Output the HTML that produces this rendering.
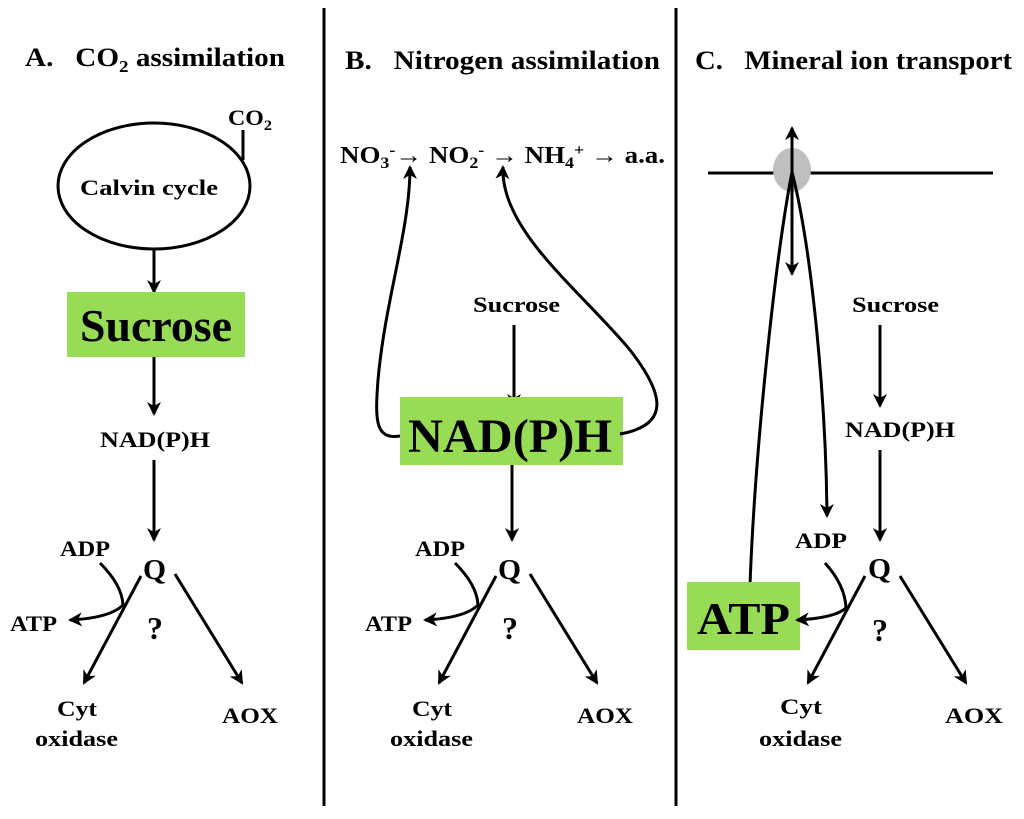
<!DOCTYPE html>
<html><head><meta charset="utf-8"><style>
body{margin:0;background:#fff}
svg text{font-family:"Liberation Serif",serif;font-weight:bold;fill:#000}
</style></head><body>
<svg width="1024" height="814" viewBox="0 0 1024 814" xmlns="http://www.w3.org/2000/svg">
<defs>
<marker id="ah" markerWidth="16" markerHeight="16" refX="12" refY="7" orient="auto" markerUnits="userSpaceOnUse">
<path d="M0,0 L14,7 L0,14 L4,7 Z" fill="#000"/>
</marker>
</defs>
<g stroke="#000" stroke-width="3" fill="none">
<line x1="324" y1="8" x2="324" y2="806"/>
<line x1="676" y1="8" x2="676" y2="806"/>
</g>
<!-- Titles -->
<text x="25" y="66" font-size="26" textLength="260" lengthAdjust="spacingAndGlyphs">A.&#160;&#160; CO<tspan font-size="17" dy="6">2</tspan><tspan dy="-6"> assimilation</tspan></text>
<text x="345" y="69" font-size="26" textLength="315" lengthAdjust="spacingAndGlyphs">B.&#160;&#160; Nitrogen assimilation</text>
<text x="695" y="69" font-size="26" textLength="317" lengthAdjust="spacingAndGlyphs">C.&#160;&#160; Mineral ion transport</text>

<!-- Panel A -->
<ellipse cx="154" cy="186" rx="96" ry="63" fill="none" stroke="#000" stroke-width="3"/>
<path d="M243,130 L243,160" stroke="#000" stroke-width="3"/>
<text x="228" y="125" font-size="22" textLength="44" lengthAdjust="spacingAndGlyphs">CO<tspan font-size="15" dy="5">2</tspan></text>
<text x="80" y="195" font-size="22" textLength="138" lengthAdjust="spacingAndGlyphs">Calvin cycle</text>
<line x1="154" y1="249" x2="154" y2="292" stroke="#000" stroke-width="3" marker-end="url(#ah)"/>
<rect x="67" y="292" width="178" height="65" fill="#98dc56"/>
<text x="80" y="341" font-size="46" textLength="152" lengthAdjust="spacingAndGlyphs">Sucrose</text>
<line x1="154" y1="357" x2="154" y2="414" stroke="#000" stroke-width="3" marker-end="url(#ah)"/>
<text x="100" y="447" font-size="22" textLength="110" lengthAdjust="spacingAndGlyphs">NAD(P)H</text>
<line x1="154" y1="460" x2="154" y2="540" stroke="#000" stroke-width="3" marker-end="url(#ah)"/>

<g id="bottomA">
<text x="143" y="579" font-size="28" textLength="23" lengthAdjust="spacingAndGlyphs">Q</text>
<text x="60" y="556" font-size="22" textLength="50" lengthAdjust="spacingAndGlyphs">ADP</text>
<text x="10" y="631" font-size="22" textLength="47" lengthAdjust="spacingAndGlyphs">ATP</text>
<text x="155" y="639" font-size="32" text-anchor="middle">?</text>
<text x="57" y="716" font-size="22" textLength="40" lengthAdjust="spacingAndGlyphs">Cyt</text>
<text x="35" y="746" font-size="22" textLength="83" lengthAdjust="spacingAndGlyphs">oxidase</text>
<text x="222" y="723" font-size="22" textLength="56" lengthAdjust="spacingAndGlyphs">AOX</text>
<g stroke="#000" stroke-width="3" fill="none">
<path d="M100,563 Q122,585 123,605 Q110,618 70,620" marker-end="url(#ah)"/>
<line x1="141" y1="576" x2="84" y2="683" marker-end="url(#ah)"/>
<line x1="175" y1="574" x2="242" y2="683" marker-end="url(#ah)"/>
</g>
</g>

<!-- Panel B -->
<text x="340" y="163" font-size="24" textLength="325" lengthAdjust="spacingAndGlyphs">NO<tspan font-size="16" dy="5">3</tspan><tspan font-size="16" dy="-13">-</tspan><tspan dy="8">→ NO</tspan><tspan font-size="16" dy="5">2</tspan><tspan font-size="16" dy="-13">-</tspan><tspan dy="8"> → NH</tspan><tspan font-size="16" dy="5">4</tspan><tspan font-size="16" dy="-13">+</tspan><tspan dy="8"> → a.a.</tspan></text>
<text x="473" y="312" font-size="22" textLength="87" lengthAdjust="spacingAndGlyphs">Sucrose</text>
<line x1="514" y1="325" x2="514" y2="406" stroke="#000" stroke-width="3" marker-end="url(#ah)"/>
<rect x="400" y="397" width="223" height="68" fill="#98dc56"/>
<text x="408" y="452" font-size="48" textLength="204" lengthAdjust="spacingAndGlyphs">NAD(P)H</text>
<line x1="512" y1="465" x2="512" y2="540" stroke="#000" stroke-width="3" marker-end="url(#ah)"/>
<g stroke="#000" stroke-width="3" fill="none">
<path d="M400,436 C375,440 375,420 378,380 C385,300 410,230 410,167" marker-end="url(#ah)"/>
<path d="M620,434 C670,425 665,395 630,350 C580,290 500,230 503,167" marker-end="url(#ah)"/>
</g>
<use href="#bottomA" transform="translate(355,0)"/>

<!-- Panel C -->
<line x1="708" y1="173" x2="993" y2="173" stroke="#000" stroke-width="3"/>
<ellipse cx="792" cy="170" rx="19" ry="22" fill="#bfbfbf"/>
<g stroke="#000" stroke-width="3" fill="none">
<line x1="792" y1="240" x2="792" y2="128" marker-end="url(#ah)"/>
<line x1="792" y1="170" x2="792" y2="274" marker-end="url(#ah)"/>
<path d="M750,585 C755,450 775,260 792,172"/>
<path d="M792,172 C812,250 826,400 827,516" marker-end="url(#ah)"/>
</g>
<text x="852" y="312" font-size="22" textLength="87" lengthAdjust="spacingAndGlyphs">Sucrose</text>
<line x1="880" y1="325" x2="880" y2="406" stroke="#000" stroke-width="3" marker-end="url(#ah)"/>
<text x="845" y="437" font-size="22" textLength="110" lengthAdjust="spacingAndGlyphs">NAD(P)H</text>
<line x1="880" y1="450" x2="880" y2="540" stroke="#000" stroke-width="3" marker-end="url(#ah)"/>
<rect x="687" y="582" width="113" height="68" fill="#98dc56"/>
<text x="697" y="634" font-size="46" textLength="93" lengthAdjust="spacingAndGlyphs">ATP</text>
<text x="868" y="578" font-size="28" textLength="23" lengthAdjust="spacingAndGlyphs">Q</text>
<text x="795" y="548" font-size="22" textLength="52" lengthAdjust="spacingAndGlyphs">ADP</text>
<text x="880" y="641" font-size="32" text-anchor="middle">?</text>
<text x="780" y="714" font-size="22" textLength="42" lengthAdjust="spacingAndGlyphs">Cyt</text>
<text x="759" y="746" font-size="22" textLength="83" lengthAdjust="spacingAndGlyphs">oxidase</text>
<text x="945" y="723" font-size="22" textLength="58" lengthAdjust="spacingAndGlyphs">AOX</text>
<g stroke="#000" stroke-width="3" fill="none">
<path d="M825,563 Q845,585 846,608 Q835,618 797,620" marker-end="url(#ah)"/>
<line x1="865" y1="576" x2="808" y2="683" marker-end="url(#ah)"/>
<line x1="900" y1="576" x2="966" y2="683" marker-end="url(#ah)"/>
</g>
</svg>
</body></html>
